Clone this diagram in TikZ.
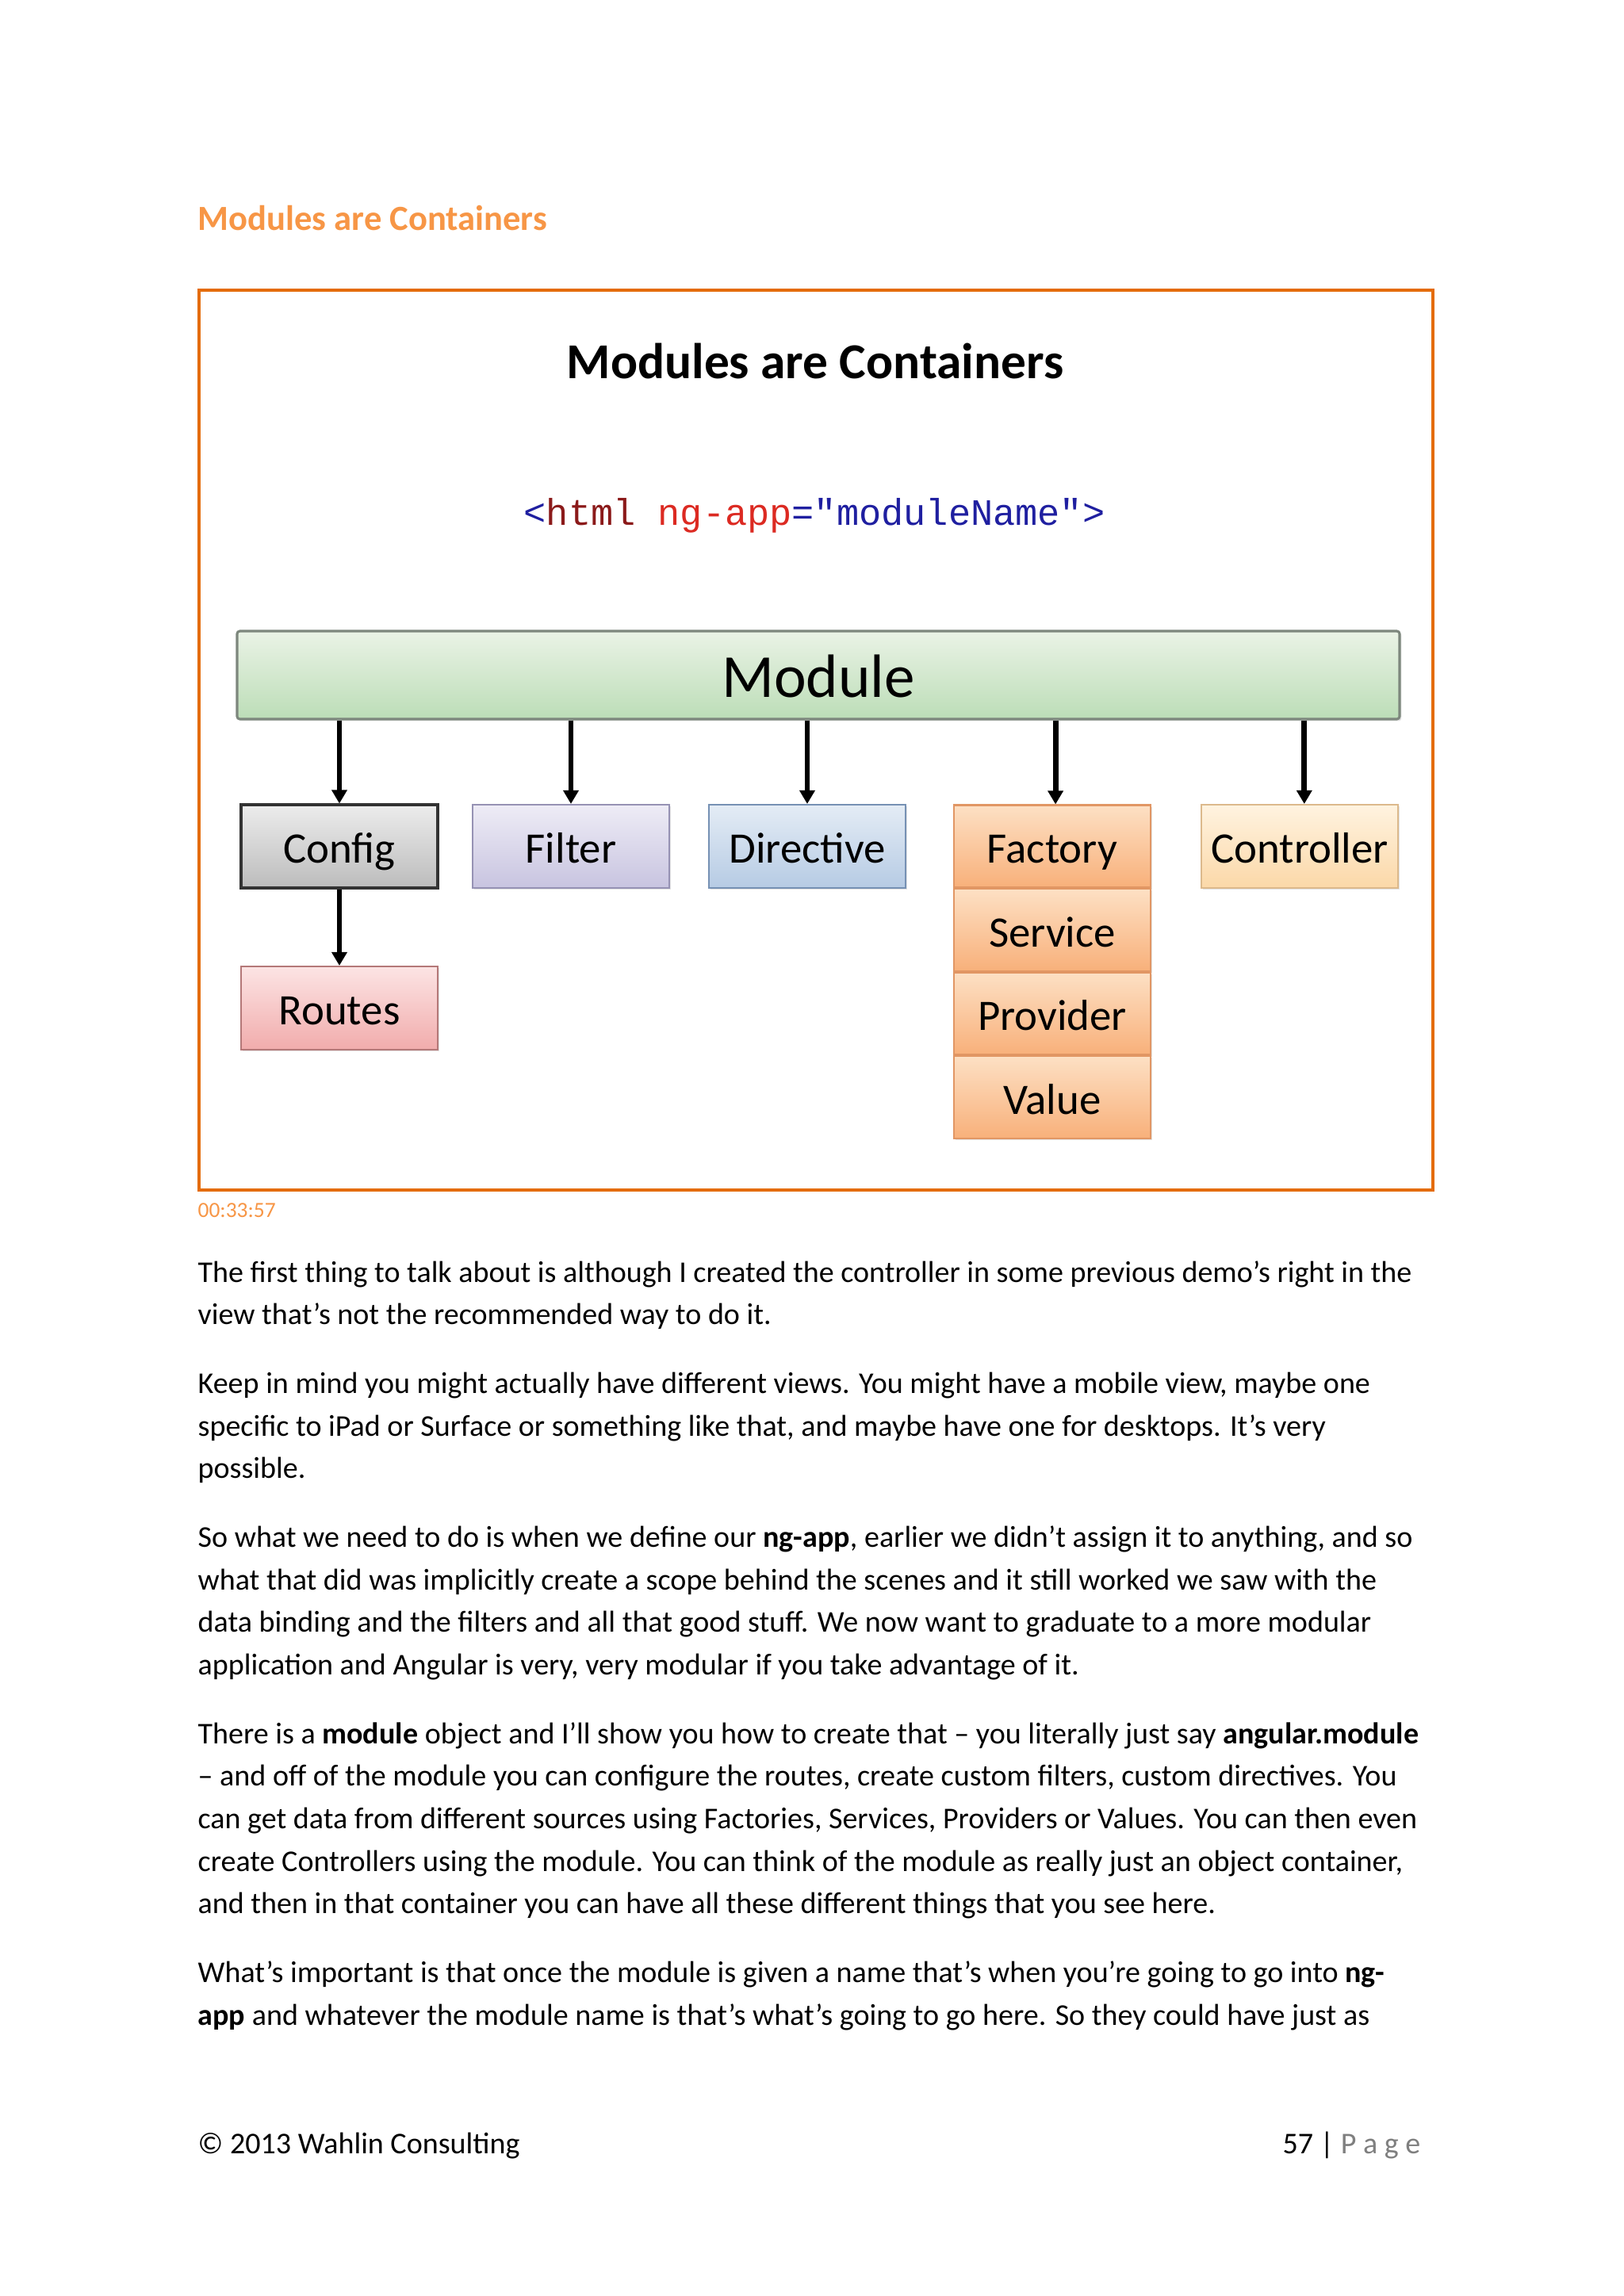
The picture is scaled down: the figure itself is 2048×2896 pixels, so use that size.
\documentclass[tikz,border=0pt]{standalone}
\usepackage{fontspec}
\setmainfont{Carlito}
\newfontfamily\codefont{Liberation Mono}
\usetikzlibrary{arrows.meta,shadows}
\definecolor{headorange}{HTML}{F79646}
\definecolor{frameorange}{HTML}{E46C0A}
\definecolor{codeblue}{HTML}{1F1FA0}
\definecolor{codemaroon}{HTML}{8B1A1A}
\definecolor{codered}{HTML}{DC2A22}
\definecolor{pagegray}{HTML}{7F7F7F}
\definecolor{modtop}{RGB}{234,243,230}
\definecolor{modbot}{RGB}{188,221,183}
\definecolor{moddraw}{RGB}{125,135,125}
\definecolor{cfgtop}{RGB}{236,236,236}
\definecolor{cfgbot}{RGB}{188,188,188}
\definecolor{filtop}{RGB}{238,236,246}
\definecolor{filbot}{RGB}{200,196,224}
\definecolor{fildraw}{RGB}{150,146,180}
\definecolor{dirtop}{RGB}{228,236,245}
\definecolor{dirbot}{RGB}{182,203,228}
\definecolor{dirdraw}{RGB}{118,145,180}
\definecolor{factop}{RGB}{253,224,196}
\definecolor{facbot}{RGB}{248,176,122}
\definecolor{facdraw}{RGB}{225,150,100}
\definecolor{ctltop}{RGB}{255,243,224}
\definecolor{ctlbot}{RGB}{251,216,168}
\definecolor{ctldraw}{RGB}{220,185,140}
\definecolor{rtetop}{RGB}{252,228,228}
\definecolor{rtebot}{RGB}{241,172,172}
\definecolor{rtedraw}{RGB}{180,120,120}
\def\pxu{0.1025390625mm}
\tikzset{
  txt/.style={inner sep=0pt, anchor=base west, font=\fontsize{11.1pt}{13pt}\selectfont},
  boxbase/.style={draw, line width=0.6pt, minimum width=248*\pxu, minimum height=105*\pxu, inner sep=0pt,
     text height=12.4pt, text depth=0pt,
     font=\fontsize{16pt}{18pt}\selectfont, drop shadow={shadow xshift=0.7pt, shadow yshift=-0.7pt, opacity=0.22}},
  cfgbox/.style={boxbase, line width=0.9pt, draw=black!80, top color=cfgtop, bottom color=cfgbot},
  filbox/.style={boxbase, draw=fildraw, top color=filtop, bottom color=filbot},
  dirbox/.style={boxbase, draw=dirdraw, top color=dirtop, bottom color=dirbot},
  facbox/.style={boxbase, minimum height=104*\pxu, draw=facdraw, top color=factop, bottom color=facbot},
  ctlbox/.style={boxbase, draw=ctldraw, top color=ctltop, bottom color=ctlbot},
  rtebox/.style={boxbase, draw=rtedraw, top color=rtetop, bottom color=rtebot},
  arr/.style={line width=2pt, -{Triangle[length=5pt,width=5.5pt]}},
}
\begin{document}
\begin{tikzpicture}[x=0.1025390625mm, y=-0.1025390625mm]
\useasboundingbox (0,0) rectangle (2048,2896);
\fill[white] (0,0) rectangle (2048,2896);

% page heading
\node[inner sep=0pt, anchor=base west, text=headorange, font=\fontsize{13pt}{15pt}\selectfont\bfseries] (head) at (249,290) {Modules are Containers};

% frame
\node[draw=frameorange, line width=1pt, minimum width=1556*\pxu, minimum height=1135*\pxu, inner sep=0pt] (frame) at (1029,933.5) {};

% inner title
\node[inner sep=0pt, font=\fontsize{18.5pt}{21pt}\selectfont\bfseries] (title) at (1028,455) {Modules are Containers};

% code line
\node[inner sep=0pt, anchor=base, font=\fontsize{13.7pt}{16pt}\codefont] (code) at (1027,662)
 {\textcolor{codeblue}{<}\textcolor{codemaroon}{html} \textcolor{codered}{ng-app}\textcolor{codeblue}{="moduleName">}};

% module bar
\node[draw=moddraw, line width=0.9pt, rounded corners=1pt, top color=modtop, bottom color=modbot, minimum width=1466*\pxu, minimum height=111*\pxu, inner sep=0pt, text height=16.5pt, text depth=0pt, font=\fontsize{22.5pt}{25pt}\selectfont, drop shadow={shadow xshift=0.7pt, shadow yshift=-0.7pt, opacity=0.22}] (mod) at (1032,851.5) {Module};

% boxes
\node[cfgbox] (cfg) at (428,1067.5) {Config};
\node[filbox] (fil) at (720,1067.5) {Filter};
\node[dirbox] (dir) at (1018,1067.5) {Directive};
\node[facbox] (fac) at (1327,1067.5) {Factory};
\node[facbox] (srv) at (1327,1173) {Service};
\node[facbox] (prv) at (1327,1278.5) {Provider};
\node[facbox] (val) at (1327,1384) {Value};
\node[ctlbox] (ctl) at (1639,1067.5) {Controller};
\node[rtebox] (rte) at (428,1271.5) {Routes};

% arrows
\draw[arr] (cfg.north |- mod.south) -- (cfg.north);
\draw[arr] (fil.north |- mod.south) -- (fil.north);
\draw[arr] (dir.north |- mod.south) -- (dir.north);
\draw[arr] ([xshift=1.2pt]fac.north |- mod.south) -- ([xshift=1.2pt]fac.north);
\draw[arr] ([xshift=1.7pt]ctl.north |- mod.south) -- ([xshift=1.7pt]ctl.north);
\draw[arr] (cfg.south) -- (rte.north);

% timestamp
\node[inner sep=0pt, anchor=base west, text=headorange, font=\fontsize{8pt}{9pt}\selectfont] (ts) at (249,1535) {00:33:57};

% body text
\node[txt] (l1) at (249,1617) {The first thing to talk about is although I created the controller in some previous demo’s right in the};
\node[txt] (l2) at (249,1670) {view that’s not the recommended way to do it.};

\node[txt] (l3) at (249,1757) {Keep in mind you might actually have different views. You might have a mobile view, maybe one};
\node[txt] (l4) at (249,1811) {specific to iPad or Surface or something like that, and maybe have one for desktops. It’s very};
\node[txt] (l5) at (249,1864) {possible.};

\node[txt] (l6) at (249,1951) {So what we need to do is when we define our \textbf{ng-app}, earlier we didn’t assign it to anything, and so};
\node[txt] (l7) at (249,2005) {what that did was implicitly create a scope behind the scenes and it still worked we saw with the};
\node[txt] (l8) at (249,2058) {data binding and the filters and all that good stuff. We now want to graduate to a more modular};
\node[txt] (l9) at (249,2112) {application and Angular is very, very modular if you take advantage of it.};

\node[txt] (l10) at (249,2199) {There is a \textbf{module} object and I’ll show you how to create that – you literally just say \textbf{angular.module}};
\node[txt] (l11) at (249,2252) {– and off of the module you can configure the routes, create custom filters, custom directives. You};
\node[txt] (l12) at (249,2306) {can get data from different sources using Factories, Services, Providers or Values. You can then even};
\node[txt] (l13) at (249,2360) {create Controllers using the module. You can think of the module as really just an object container,};
\node[txt] (l14) at (249,2413) {and then in that container you can have all these different things that you see here.};

\node[txt] (l15) at (249,2500) {What’s important is that once the module is given a name that’s when you’re going to go into \textbf{ng-}};
\node[txt] (l16) at (249,2554) {\textbf{app} and whatever the module name is that’s what’s going to go here. So they could have just as};

% footer
\node[txt] (foot) at (249,2716) {© 2013 Wahlin Consulting};
\node[txt, anchor=base east] (page) at (1792,2716) {57 | \textcolor{pagegray}{P a g e}};
\end{tikzpicture}
\end{document}
